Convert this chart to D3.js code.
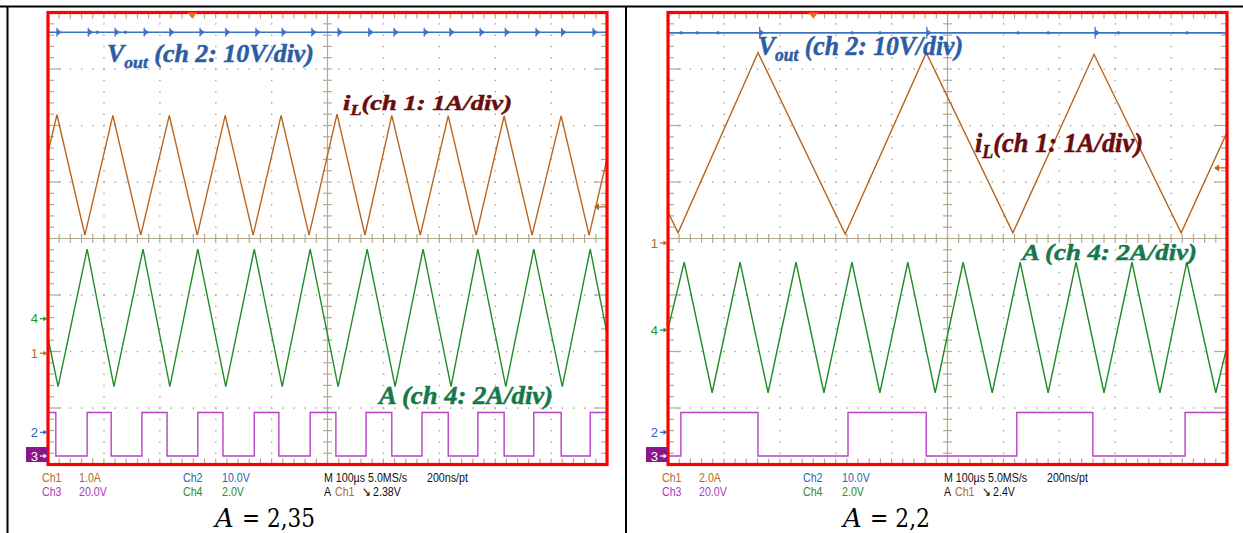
<!DOCTYPE html>
<html><head><meta charset="utf-8">
<script src="https://cdn.jsdelivr.net/npm/d3@7"></script>
<style>body{margin:0;background:#fff;} svg{display:block;}</style>
</head><body>
<svg id="chart" width="1243" height="533"></svg>
<script>
// ---------------- DATA (time in µs, value in scope divisions) ----------------
const timeDomainUs = [0, 1000];
const divDomain = [-4, 4];

// Panel A = 2,35
const leftIL = [[0,1.52],[16,2.19],[66,0.06],[116,2.18],[166,0.06],[217,2.18],[267,0.06],[317,2.18],[367,0.06],[417,2.18],[467,0.06],[517,2.2],[567,0.06],[615,2.18],[666,0.06],[716,2.17],[766,0.06],[816,2.17],[866,0.06],[918,2.17],[968,0.06],[1000,1.41]];
const leftA = [[0,-1.76],[18,-2.62],[70,-0.19],[118,-2.62],[170,-0.19],[218,-2.62],[268,-0.19],[318,-2.62],[369,-0.19],[419,-2.62],[469,-0.19],[519,-2.62],[571,-0.19],[621,-2.62],[671,-0.19],[721,-2.62],[769,-0.19],[819,-2.62],[869,-0.19],[920,-2.62],[970,-0.19],[1000,-1.68]];
const leftGateStartsHigh = true;
const leftGateEdges = [14,70,113,168,213,268,313,369,413,469,515,569,615,669,716,769,816,869,918,970];
const leftGateLevels = {high: -3.08, low: -3.85};
const leftVoutLevel = 3.65;
const leftVoutGlitches = [16,72,120,172,218,272,318,372,419,472,519,574,619,673,719,773,818,873,919,975];
const leftVoutDots = [88,138];
const leftTags = [{ch:"4", v:-1.42}, {ch:"1", v:-2.03}, {ch:"2", v:-3.43}, {ch:"3", v:-3.85}];
const leftTrigLevel = 0.56;
const leftTrigPos = 258;
const leftInfoRow1 = ["Ch1","1.0A","Ch2","10.0V","M 100µs 5.0MS/s","200ns/pt"];
const leftInfoRow2 = ["Ch3","20.0V","Ch4","2.0V","A","Ch1","↘","2.38V"];
const leftCaption = ["A", "= 2,35"];

// Panel A = 2,2
const rightIL = [[0,0.47],[18,0.1],[161,3.29],[317,0.08],[462,3.29],[617,0.1],[762,3.26],[918,0.1],[1000,1.88]];
const rightA = [[0,-1.6],[29,-0.42],[79,-2.73],[129,-0.42],[179,-2.73],[229,-0.42],[279,-2.73],[329,-0.42],[379,-2.73],[429,-0.42],[478,-2.73],[528,-0.42],[580,-2.73],[630,-0.42],[680,-2.73],[730,-0.42],[780,-2.73],[830,-0.42],[880,-2.73],[928,-0.42],[980,-2.73],[1000,-1.91]];
const rightGateStartsHigh = false;
const rightGateEdges = [23,161,322,462,624,760,925];
const rightGateLevels = {high: -3.08, low: -3.85};
const rightVoutLevel = 3.64;
const rightVoutGlitches = [164,463,764];
const rightVoutDots = [23,52,89,329,379,626,680,805,928];
const rightTags = [{ch:"1", v:-0.08}, {ch:"4", v:-1.62}, {ch:"2", v:-3.43}, {ch:"3", v:-3.85}];
const rightTrigLevel = 1.25;
const rightTrigPos = 260;
const rightInfoRow1 = ["Ch1","2.0A","Ch2","10.0V","M 100µs 5.0MS/s","200ns/pt"];
const rightInfoRow2 = ["Ch3","20.0V","Ch4","2.0V","A","Ch1","↘","2.4V"];
const rightCaption = ["A", "= 2,2"];

// trace labels
const labelVout = {main:"V", sub:"out", rest:" (ch 2: 10V/div)"};
const labelIL = {main:"i", sub:"L", rest:"(ch 1: 1A/div)"};
const labelA = {main:"A (ch 4: 2A/div)", sub:"", rest:""};

// ---------------- STYLE ----------------
const COL = {
  iL:"#b8651e", A:"#1f8c2a", gate:"#b641c4", vout:"#3a73c6",
  lblVout:"#2b5da5", lblIL:"#6a0c0c", lblA:"#16784a",
  ch1:"#b06a2a", ch2:"#2a62c4", ch3:"#b03ab8", ch4:"#2a8f2a",
  grid:"#b4aa8e", dot:"#aaa28c", red:"#ff0000", trig:"#f26b22", box3:"#8a168a"
};
const GRID_W = 559, GRID_TOP = 12.5, GRID_BOTTOM = 464.5;
const svg = d3.select("#chart");

// table borders
svg.append("line").attr("x1",0).attr("x2",1243).attr("y1",6.5).attr("y2",6.5).attr("stroke","#000").attr("stroke-width",2);
svg.append("line").attr("x1",7.5).attr("x2",7.5).attr("y1",6).attr("y2",533).attr("stroke","#000").attr("stroke-width",2);
svg.append("line").attr("x1",626).attr("x2",626).attr("y1",6).attr("y2",533).attr("stroke","#000").attr("stroke-width",2);

function drawPanel(p, idx) {
  const x = d3.scaleLinear().domain(timeDomainUs).range([p.x0, p.x0 + GRID_W]);
  const y = d3.scaleLinear().domain(divDomain).range([GRID_BOTTOM, GRID_TOP]);
  const g = svg.append("g");
  const x1 = x(timeDomainUs[1]);

  const minorT = d3.range(0, 1000.01, 20);
  const minorV = d3.range(-20, 21).map(k => k / 5);
  const majorT = d3.range(100, 1000, 100).filter(t => t !== 500);
  const majorV = d3.range(-3, 4).filter(v => v !== 0);

  // dotted graticule
  const dots = [];
  majorT.forEach(t => minorV.forEach(v => dots.push([t, v])));
  majorV.forEach(v => minorT.forEach(t => dots.push([t, v])));
  g.append("g").selectAll("rect").data(dots).join("rect")
    .attr("x", d => x(d[0]) - 0.6).attr("y", d => y(d[1]) - 0.6)
    .attr("width", 1.4).attr("height", 1.4).attr("fill", COL.dot);

  // center cross
  const gc = g.append("g").attr("stroke", COL.grid).attr("stroke-width", 1.2);
  gc.append("line").attr("x1", x(500)).attr("x2", x(500)).attr("y1", GRID_TOP).attr("y2", GRID_BOTTOM);
  gc.append("line").attr("x1", p.x0).attr("x2", x1).attr("y1", y(0)).attr("y2", y(0));
  gc.selectAll(".th").data(minorT).join("line").attr("class","th")
    .attr("x1", d => x(d)).attr("x2", d => x(d)).attr("y1", y(0) - 4.5).attr("y2", y(0) + 4.5);
  gc.selectAll(".tv").data(minorV).join("line").attr("class","tv")
    .attr("y1", d => y(d)).attr("y2", d => y(d)).attr("x1", x(500) - 4.5).attr("x2", x(500) + 4.5);
  // edge ticks
  gc.selectAll(".et").data(minorT).join("line").attr("class","et")
    .attr("x1", d => x(d)).attr("x2", d => x(d)).attr("y1", GRID_TOP).attr("y2", GRID_TOP + 6);
  gc.selectAll(".eb").data(minorT).join("line").attr("class","eb")
    .attr("x1", d => x(d)).attr("x2", d => x(d)).attr("y1", GRID_BOTTOM).attr("y2", GRID_BOTTOM - 6);
  const isMaj = v => Math.abs(v - Math.round(v)) < 1e-6;
  gc.selectAll(".el").data(minorV).join("line").attr("class","el")
    .attr("y1", d => y(d)).attr("y2", d => y(d)).attr("x1", p.x0).attr("x2", d => p.x0 + (isMaj(d) ? 13 : 6));
  gc.selectAll(".er").data(minorV).join("line").attr("class","er")
    .attr("y1", d => y(d)).attr("y2", d => y(d)).attr("x1", x1).attr("x2", d => x1 - (isMaj(d) ? 13 : 6));

  // clip
  const clipId = "clip" + idx;
  svg.append("clipPath").attr("id", clipId).append("rect")
    .attr("x", p.x0).attr("y", GRID_TOP).attr("width", GRID_W).attr("height", GRID_BOTTOM - GRID_TOP);
  const tr = g.append("g").attr("clip-path", `url(#${clipId})`).attr("fill", "none");
  const line = d3.line().x(d => x(d[0])).y(d => y(d[1]));

  // gate (ch3)
  let lvl = p.gateStartsHigh;
  const gatePts = [[0, lvl ? p.gateLevels.high : p.gateLevels.low]];
  p.gateEdges.forEach(t => { lvl = !lvl; gatePts.push([t, lvl ? p.gateLevels.high : p.gateLevels.low]); });
  gatePts.push([1000, lvl ? p.gateLevels.high : p.gateLevels.low]);
  tr.append("path").attr("d", line.curve(d3.curveStepAfter)(gatePts))
    .attr("stroke", COL.gate).attr("stroke-width", 1.4);
  line.curve(d3.curveLinear);

  // A (ch4)
  tr.append("path").attr("d", line(p.A)).attr("stroke", COL.A).attr("stroke-width", 1.4);
  // iL (ch1)
  tr.append("path").attr("d", line(p.IL)).attr("stroke", COL.iL).attr("stroke-width", 1.4);
  // Vout (ch2)
  tr.append("path").attr("d", line([[0, p.voutLevel], [1000, p.voutLevel]]))
    .attr("stroke", COL.vout).attr("stroke-width", 1.6);
  const yv = y(p.voutLevel);
  p.voutGlitches.forEach(t => {
    const xv = x(t);
    tr.append("line").attr("x1", xv).attr("x2", xv).attr("y1", yv - p.glitchH).attr("y2", yv + p.glitchH)
      .attr("stroke", COL.vout).attr("stroke-width", 1.2);
    tr.append("path").attr("d", `M${xv},${yv-3.5}L${xv+5},${yv}L${xv},${yv+3.5}Z`).attr("fill", COL.vout);
  });
  p.voutDots.forEach(t => {
    tr.append("rect").attr("x", x(t) - 1).attr("y", yv - 1.5).attr("width", 2.5).attr("height", 3).attr("fill", COL.vout);
  });

  // trigger level arrow (right edge, inside)
  const yt = y(p.trigLevel);
  g.append("line").attr("x1", x1 - 12).attr("x2", x1 - 1).attr("y1", yt).attr("y2", yt)
    .attr("stroke", COL.iL).attr("stroke-width", 1.3);
  g.append("path").attr("d", `M${x1-13},${yt}L${x1-8},${yt-3.5}L${x1-8},${yt+3.5}Z`).attr("fill", COL.iL);

  // red frame
  g.append("rect").attr("x", p.x0).attr("y", GRID_TOP).attr("width", GRID_W).attr("height", GRID_BOTTOM - GRID_TOP)
    .attr("fill", "none").attr("stroke", COL.red).attr("stroke-width", 3.2);

  // trigger position marker at top
  const xt = x(p.trigPos);
  g.append("path").attr("d", `M${xt-5},${GRID_TOP}L${xt+5},${GRID_TOP}L${xt},${GRID_TOP+6}Z`).attr("fill", COL.trig);

  // channel tags
  const tagCol = {"1": COL.ch1, "2": COL.ch2, "3": "#fff", "4": COL.ch4};
  p.tags.forEach(tg => {
    const yy = y(tg.v);
    if (tg.ch === "3") {
      g.append("rect").attr("x", p.x0 - 22).attr("y", yy - 9).attr("width", 21).attr("height", 15).attr("fill", COL.box3);
    }
    g.append("text").attr("x", p.x0 - 10).attr("y", yy + 4.5).attr("text-anchor", "end")
      .attr("font-family", "Liberation Sans, Arial, sans-serif").attr("font-size", 13)
      .attr("fill", tagCol[tg.ch]).text(tg.ch);
    g.append("line").attr("x1", p.x0 - 8).attr("x2", p.x0 - 2).attr("y1", yy).attr("y2", yy)
      .attr("stroke", tagCol[tg.ch]).attr("stroke-width", 1.2);
    g.append("path").attr("d", `M${p.x0-1},${yy}L${p.x0-4.5},${yy-2.5}L${p.x0-4.5},${yy+2.5}Z`).attr("fill", tagCol[tg.ch]);
  });

  // trace labels
  p.labels.forEach(L => {
    const t = g.append("text").attr("x", L.x).attr("y", L.y)
      .attr("font-family", "Liberation Serif, 'Times New Roman', serif")
      .attr("font-weight", "bold").attr("font-style", "italic")
      .attr("font-size", L.size).attr("fill", L.color)
      .attr("stroke", L.color).attr("stroke-width", 0.5)
      .attr("textLength", L.w).attr("lengthAdjust", "spacingAndGlyphs");
    t.append("tspan").text(L.def.main);
    if (L.def.sub) {
      t.append("tspan").attr("font-size", L.size * 0.68).attr("dy", L.size * 0.22).text(L.def.sub);
      t.append("tspan").attr("dy", -L.size * 0.22).text(L.def.rest);
    }
  });

  // info text
  const infoColsR1 = [[-6, COL.ch1],[31, COL.ch1],[135, COL.ch2],[174, COL.ch2],[276, "#111"],[379, "#111"]];
  const infoColsR2 = [[-6, COL.ch3],[31, COL.ch3],[135, COL.ch4],[174, COL.ch4],[276, "#111"],[287, COL.ch1],[314, "#111"],[325, "#111"]];
  const info = (txt, xo, yb, col) => g.append("text")
    .attr("transform", `translate(${p.x0 + xo},${yb}) scale(0.82,1)`)
    .attr("font-family", "Liberation Sans, Arial, sans-serif").attr("font-size", 13)
    .attr("fill", col).text(txt);
  p.info1.forEach((s, i) => info(s, infoColsR1[i][0], 481.5, infoColsR1[i][1]));
  p.info2.forEach((s, i) => info(s, infoColsR2[i][0], 495.5, infoColsR2[i][1]));

  // caption (italic variable + value as separate texts)
  g.append("text").attr("x", p.capX).attr("y", 527)
    .attr("font-family", "'DejaVu Serif', 'Liberation Serif', serif").attr("font-size", 26)
    .attr("font-style", "italic").attr("fill", "#000").text(p.caption[0]);
  g.append("text").attr("x", p.capX + 27).attr("y", 527)
    .attr("font-family", "'DejaVu Serif', 'Liberation Serif', serif").attr("font-size", 26).attr("fill", "#000")
    .attr("textLength", p.capW - 27).attr("lengthAdjust", "spacingAndGlyphs").text(p.caption[1]);
}

drawPanel({
  x0: 48, IL: leftIL, A: leftA, gateStartsHigh: leftGateStartsHigh, gateEdges: leftGateEdges, gateLevels: leftGateLevels,
  voutLevel: leftVoutLevel, voutGlitches: leftVoutGlitches, voutDots: leftVoutDots, glitchH: 4.5,
  tags: leftTags, trigLevel: leftTrigLevel, trigPos: leftTrigPos,
  info1: leftInfoRow1, info2: leftInfoRow2, caption: leftCaption, capX: 215, capW: 100,
  labels: [
    {def: labelVout, x: 107, y: 62, size: 25, w: 207, color: COL.lblVout},
    {def: labelIL, x: 343, y: 110, size: 22, w: 169, color: COL.lblIL},
    {def: labelA, x: 379, y: 404, size: 25, w: 174, color: COL.lblA}
  ]
}, 0);

drawPanel({
  x0: 668, IL: rightIL, A: rightA, gateStartsHigh: rightGateStartsHigh, gateEdges: rightGateEdges, gateLevels: rightGateLevels,
  voutLevel: rightVoutLevel, voutGlitches: rightVoutGlitches, voutDots: rightVoutDots, glitchH: 6,
  tags: rightTags, trigLevel: rightTrigLevel, trigPos: rightTrigPos,
  info1: rightInfoRow1, info2: rightInfoRow2, caption: rightCaption, capX: 843, capW: 87,
  labels: [
    {def: labelVout, x: 758, y: 55, size: 27, w: 205, color: COL.lblVout},
    {def: labelIL, x: 975, y: 152, size: 27, w: 168, color: COL.lblIL},
    {def: labelA, x: 1022, y: 260, size: 24, w: 175, color: COL.lblA}
  ]
}, 1);
</script>
</body></html>
